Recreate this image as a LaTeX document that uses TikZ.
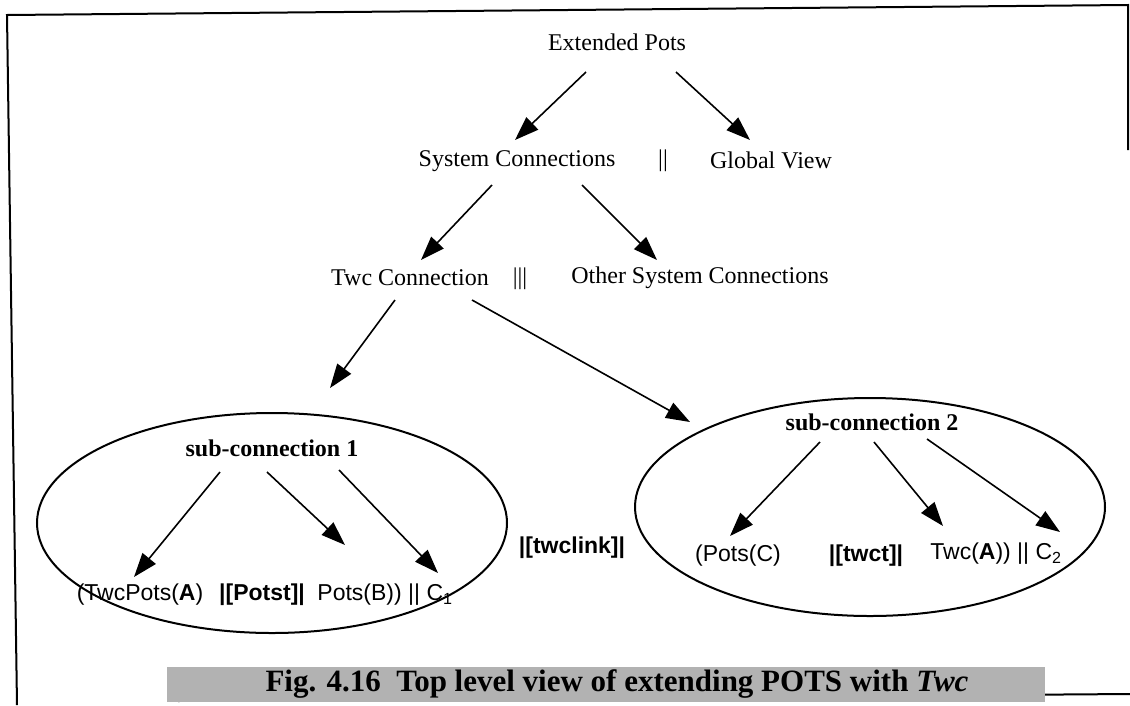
\documentclass[tikz,border=0pt]{standalone}
\usepackage{fontspec}
\setmainfont{Liberation Serif}
\setsansfont{Liberation Sans}
\usetikzlibrary{arrows.meta,shapes.geometric}
\begin{document}
\begin{tikzpicture}[x=1pt,y=-1pt,
  lbl/.style={font=\fontsize{24}{26}\selectfont, inner sep=0pt},
  subl/.style={font=\fontsize{24}{26}\selectfont\bfseries, inner sep=0pt},
  inl/.style={font=\sffamily\fontsize{23}{25}\selectfont, inner sep=0pt},
  arr/.style={line width=1.6pt, -{Triangle[length=24pt,width=17pt]}},
  framel/.style={line width=2pt},
  ell/.style={draw, ellipse, line width=2pt, inner sep=0pt}]
\useasboundingbox (0,0) rectangle (1130,705);
% frame
\draw[framel] (17,705) -- (7,15) -- (1128,5) -- (1128,150);
\draw[framel] (178,701) -- (1130,694);
% tree labels
\node[lbl] (ext) at (617,42) {Extended Pots};
\node[lbl] (sys) at (517,161) {System Connections};
\node[lbl] (par1) at (663,161) {||};
\node[lbl] (glob) at (771,160) {Global View};
\node[lbl] (twc) at (410,278) {Twc Connection};
\node[lbl] (par2) at (520,279) {|||};
\node[lbl] (other) at (700,278) {Other System Connections};
% ellipses
\node[ell, minimum width=470pt, minimum height=220pt] (e1) at (272,523) {};
\node[ell, minimum width=470pt, minimum height=218pt] (e2) at (870,507) {};
\node[subl] (sub1) at (272,448) {sub-connection 1};
\node[subl] (sub2) at (872,422) {sub-connection 2};
% inner labels
\node[inl] (a1) at (140,595) {(TwcPots(\textbf{A})};
\node[inl] (a2) at (262,595) {\textbf{|[Potst]|}};
\node[inl] (a3) at (385,595) {Pots(B)) || C\textsubscript{1}};
\node[inl] (link) at (572,548) {\textbf{|[twclink]|}};
\node[inl] (b1) at (738,556) {(Pots(C)};
\node[inl] (b2) at (866,556) {\textbf{|[twct]|}};
\node[inl] (b3) at (996,554) {Twc(\textbf{A})) || C\textsubscript{2}};
% arrows
\draw[arr] ([shift={(-31,30)}]ext.center) -- ([shift={(-2,-21)}]sys.center);
\draw[arr] ([shift={(59,30)}]ext.center) -- ([shift={(-21,-20)}]glob.center);
\draw[arr] ([shift={(-25,24)}]sys.center) -- ([shift={(11,-18)}]twc.center);
\draw[arr] ([shift={(65,24)}]sys.center) -- ([shift={(-43,-18)}]other.center);
\draw[arr] ([shift={(-15,22)}]twc.center) -- ([shift={(58,-60)}]sub1.center);
\draw[arr] ([shift={(62,22)}]twc.center) -- ([shift={(-182,0)}]sub2.center);
\draw[arr] ([shift={(-52,24)}]sub1.center) -- ([shift={(-6,-18)}]a1.center);
\draw[arr] ([shift={(-5,24)}]sub1.center) -- ([shift={(-40,-50)}]a3.center);
\draw[arr] ([shift={(67,22)}]sub1.center) -- ([shift={(53,-22)}]a3.center);
\draw[arr] ([shift={(-52,20)}]sub2.center) -- ([shift={(-8,-20)}]b1.center);
\draw[arr] ([shift={(2,20)}]sub2.center) -- ([shift={(-53,-28)}]b3.center);
\draw[arr] ([shift={(55,17)}]sub2.center) -- ([shift={(64,-22)}]b3.center);
% caption
\node[fill=black!30, minimum width=878pt, minimum height=35pt, inner sep=0pt] (capbg) at (606,684.5) {};
\node[font=\fontsize{31}{33}\selectfont\bfseries, inner sep=0pt] (cap) at (617,684) {Fig. 4.16\ \ Top level view of extending POTS with \textit{Twc}};
\end{tikzpicture}
\end{document}
